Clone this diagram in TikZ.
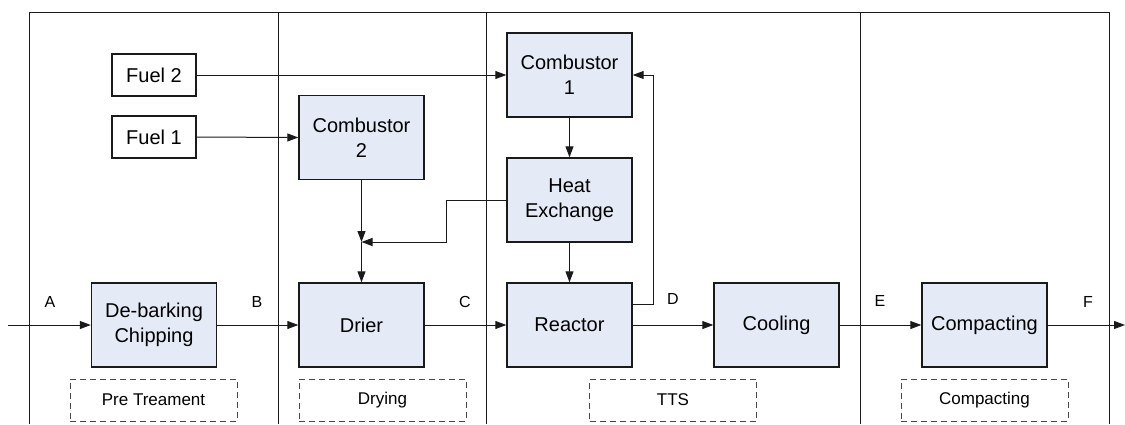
\documentclass[tikz,border=0pt]{standalone}
\usepackage{fontspec}
\setmainfont{Liberation Sans}
\usetikzlibrary{arrows.meta}
\definecolor{boxfill}{HTML}{E5EBF6}
\definecolor{ink}{HTML}{1A1A1A}
\tikzset{
  procbox/.style={draw=ink, line width=1.4pt, fill=boxfill, minimum width=125pt,
    minimum height=84pt, align=center, inner sep=2pt,
    font=\fontsize{20}{25}\selectfont},
  fuelbox/.style={draw=ink, line width=1.3pt, fill=white, minimum width=84pt,
    minimum height=42pt, font=\fontsize{20}{25}\selectfont},
  stagebox/.style={draw=ink!80, dashed, dash pattern=on 6pt off 4pt, line width=1pt,
    minimum width=167pt, minimum height=42pt, font=\fontsize{17}{20}\selectfont},
  flow/.style={draw=ink, line width=1pt, -{Triangle[length=11pt,width=8pt]}},
  plain/.style={draw=ink, line width=1pt},
  frame/.style={draw=ink, line width=1pt},
  streamlbl/.style={font=\fontsize{16}{18}\selectfont, inner sep=0pt}
}
\begin{document}
\begin{tikzpicture}[x=1pt, y=-1pt]
\useasboundingbox (0,0) rectangle (1125,424);

% stage frame
\draw[frame] (29,424) -- (29,12) -- (1109,12) -- (1109,424);
\draw[frame] (278,12) -- (278,424);
\draw[frame] (486,12) -- (486,424);
\draw[frame] (860,12) -- (860,424);

% process units
\node[procbox] (deb)     at (154,325)   {De-barking\\Chipping};
\node[procbox] (drier)   at (361.5,325) {Drier};
\node[procbox] (reactor) at (569.5,325) {Reactor};
\node[procbox] (cooling) at (776.5,325) {Cooling};
\node[procbox] (compact) at (984.5,325) {Compacting};
\node[procbox] (comb2)   at (361.5,137.5) {Combustor\\2};
\node[procbox] (comb1)   at (569.5,75)  {Combustor\\1};
\node[procbox] (heatx)   at (569.5,200) {Heat\\Exchange};

% fuels
\node[fuelbox] (fuel2) at (154,75)  {Fuel 2};
\node[fuelbox] (fuel1) at (154,137) {Fuel 1};

% stage labels
\node[stagebox] (lpre)  at (153.5,400) {Pre Treament};
\node[stagebox] (ldry)  at (382.5,400) {Drying};
\node[stagebox] (ltts)  at (673,400)   {TTS};
\node[stagebox] (lcomp) at (984.5,400) {Compacting};

% free ends and bends
\coordinate (in)   at (8,325);
\coordinate (out)  at (1125,325);
\coordinate (join) at (361.5,242);
\coordinate (hx1)  at (446,200);
\coordinate (hx2)  at (446,242);
\coordinate (rc1)  at (653,304);
\coordinate (rc2)  at (653,75);

% main product line
\draw[flow] (in) -- (deb.west);
\draw[flow] (deb.east) -- (drier.west);
\draw[flow] (drier.east) -- (reactor.west);
\draw[flow] (reactor.east) -- (cooling.west);
\draw[flow] (cooling.east) -- (compact.west);
\draw[flow] (compact.east) -- (out);

% stream letters
\node[streamlbl] (sa) at (50,302)  {A};
\node[streamlbl] (sb) at (257,302) {B};
\node[streamlbl] (sc) at (465,302) {C};
\node[streamlbl] (sd) at (673,299) {D};
\node[streamlbl] (se) at (880,301) {E};
\node[streamlbl] (sf) at (1088,302) {F};

% fuel feeds
\draw[flow] (fuel2.east) -- (comb1.west);
\draw[flow] (fuel1.east) -- (comb2.west);

% hot gas paths
\draw[flow] (comb2.south) -- (join);
\draw[flow] (heatx.west) -- (hx1) -- (hx2) -- (join);
\draw[flow] (join) -- (drier.north);
\draw[flow] (comb1.south) -- (heatx.north);
\draw[flow] (heatx.south) -- (reactor.north);
\draw[flow] (reactor.east |- rc1) -- (rc1) -- (rc2) -- (comb1.east);
\end{tikzpicture}
\end{document}
